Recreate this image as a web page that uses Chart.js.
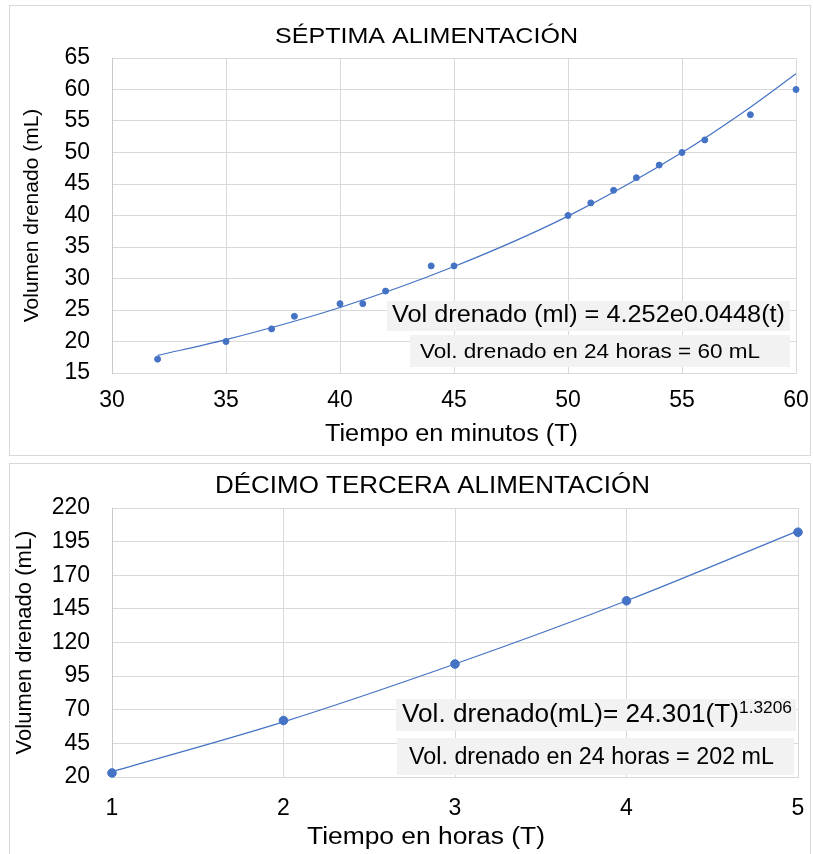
<!DOCTYPE html>
<html>
<head>
<meta charset="utf-8">
<script src="https://cdn.jsdelivr.net/npm/chart.js@4.4.1/dist/chart.umd.min.js"></script>
<style>
  html, body { margin: 0; padding: 0; background: #fff; }
  body { width: 813px; height: 854px; position: relative; overflow: hidden; }
  .box { position: absolute; border: 1px solid #d9d9d9; background: #fff; }
  #boxTop { left: 9px; top: 5px; width: 800px; height: 449px; }
  #boxBottom { left: 9px; top: 463px; width: 800px; height: 400px; }
  canvas { display: block; }
</style>
</head>
<body>
<div class="box" id="boxTop"><canvas id="chartMin" width="800" height="449"></canvas></div>
<div class="box" id="boxBottom"><canvas id="chartHoras" width="800" height="400"></canvas></div>
<script>
// Séptima alimentación: tiempo en minutos vs volumen drenado
const tiempoMin = [32, 35, 37, 38, 40, 41, 42, 44, 45, 50, 51, 52, 53, 54, 55, 56, 58, 60];
const volumenMin = [17.2, 20, 22, 24, 26, 26, 28, 32, 32, 40, 42, 44, 46, 48, 50, 52, 56, 60];
// línea de tendencia
const tendMinT = [32, 35, 40, 45, 50, 55, 58, 60];
const tendMinV = [17.8, 20.3, 25.4, 31.9, 39.9, 50.0, 57.2, 62.5];
const ticksMinX = [30, 35, 40, 45, 50, 55, 60];
const ticksMinY = [15, 20, 25, 30, 35, 40, 45, 50, 55, 60, 65];

// Décimo tercera alimentación: tiempo en horas vs volumen drenado
const tiempoHoras = [1, 2, 3, 4, 5];
const volumenHoras = [23, 62, 104, 151, 202];
const tendHorasT = [1, 2, 3, 4, 5];
const tendHorasV = [24, 61, 104, 151, 203];
const ticksHorasX = [1, 2, 3, 4, 5];
const ticksHorasY = [20, 45, 70, 95, 120, 145, 170, 195, 220];

const AZUL = '#4472c4';
const GRID = '#d9d9d9';
const FONT = "'Liberation Sans', Arial, sans-serif";

function pairs(xs, ys) {
    return xs.map((x, i) => ({ x: x, y: ys[i] }));
}

// draws text squeezed/stretched to a given width
function fitText(ctx, text, left, cy, width, size) {
    ctx.save();
    ctx.font = size + 'px ' + FONT;
    const w = ctx.measureText(text).width;
    ctx.translate(left, cy);
    ctx.scale(width / w, 1);
    ctx.textBaseline = 'middle';
    ctx.textAlign = 'left';
    ctx.fillStyle = '#000';
    ctx.fillText(text, 0, 0);
    ctx.restore();
}

function overlay(items) {
    return {
        id: 'overlay',
        afterDatasetsDraw(chart) {
            const ctx = chart.ctx;
            items.forEach(it => {
                if (it.box) {
                    ctx.save();
                    ctx.fillStyle = '#f2f2f2';
                    ctx.fillRect(it.box[0], it.box[1], it.box[2], it.box[3]);
                    ctx.restore();
                } else {
                    fitText(ctx, it.text, it.x, it.y, it.w, it.size);
                }
            });
        }
    };
}

function buildChart(id, cfg) {
    return new Chart(document.getElementById(id), {
        type: 'scatter',
        data: {
            datasets: [{
                label: 'Volumen',
                data: pairs(cfg.xs, cfg.ys),
                backgroundColor: AZUL,
                borderColor: AZUL,
                pointRadius: cfg.radius,
                pointHoverRadius: cfg.radius,
                clip: false
            }, {
                label: 'Tendencia',
                data: pairs(cfg.tx, cfg.ty),
                showLine: true,
                borderColor: AZUL,
                borderWidth: 1.2,
                pointRadius: 0,
                cubicInterpolationMode: 'monotone',
                clip: false
            }]
        },
        options: {
            responsive: false,
            animation: false,
            layout: { padding: cfg.padding },
            plugins: {
                legend: { display: false },
                title: { display: false },
                tooltip: { enabled: false }
            },
            scales: {
                x: {
                    min: cfg.ticksX[0],
                    max: cfg.ticksX[cfg.ticksX.length - 1],
                    afterBuildTicks: s => { s.ticks = cfg.ticksX.map(v => ({ value: v })); },
                    afterFit: s => {
                        s.height = cfg.xHeight;
                        s.paddingLeft = 0;
                        s.paddingRight = cfg.rightPad;
                    },
                    grid: { color: GRID, drawTicks: false },
                    border: { color: GRID },
                    ticks: { color: '#000', padding: cfg.xTickPad, font: { family: FONT, size: 23 } },
                    title: { display: false }
                },
                y: {
                    min: cfg.ticksY[0],
                    max: cfg.ticksY[cfg.ticksY.length - 1],
                    afterBuildTicks: s => { s.ticks = cfg.ticksY.map(v => ({ value: v })); },
                    afterFit: s => { s.width = 102; },
                    grid: { color: GRID, drawTicks: false },
                    border: { color: '#c8c8c8' },
                    ticks: { color: '#000', padding: 22, font: { family: FONT, size: 23 } },
                    title: {
                        display: true, text: 'Volumen drenado (mL)', color: '#000',
                        font: { family: FONT, size: cfg.yTitleSize },
                        padding: { top: cfg.yTitlePad, bottom: 0 }
                    }
                }
            }
        },
        plugins: [overlay(cfg.overlay)]
    });
}

buildChart('chartMin', {
    xs: tiempoMin, ys: volumenMin, tx: tendMinT, ty: tendMinV,
    ticksX: ticksMinX, ticksY: ticksMinY, radius: 3, rightPad: 14,
    padding: { top: 52, right: 0, left: 0, bottom: 0 },
    xHeight: 82, xTickPad: 14, yTitlePad: 10, yTitleSize: 21,
    overlay: [
        { text: 'SÉPTIMA ALIMENTACIÓN', x: 265, y: 31, w: 303, size: 22 },
        { text: 'Tiempo en minutos (T)', x: 315, y: 429, w: 253, size: 23 },
        { box: [377, 295, 403, 30] },
        { text: 'Vol drenado (ml) = 4.252e0.0448(t)', x: 382, y: 310, w: 393, size: 23 },
        { box: [400, 329, 380, 32] },
        { text: 'Vol. drenado en 24 horas = 60 mL', x: 410, y: 346, w: 340, size: 20 }
    ]
});

buildChart('chartHoras', {
    xs: tiempoHoras, ys: volumenHoras, tx: tendHorasT, ty: tendHorasV,
    ticksX: ticksHorasX, ticksY: ticksHorasY, radius: 4.3, rightPad: 12,
    padding: { top: 44, right: 0, left: 0, bottom: 0 },
    xHeight: 87, xTickPad: 18, yTitlePad: 2, yTitleSize: 22,
    overlay: [
        { text: 'DÉCIMO TERCERA ALIMENTACIÓN', x: 205, y: 23, w: 435, size: 23 },
        { text: 'Tiempo en horas (T)', x: 297, y: 374, w: 238, size: 23 },
        { box: [386, 235, 400, 32] },
        { text: 'Vol. drenado(mL)= 24.301(T)', x: 392, y: 251, w: 337, size: 26 },
        { text: '1.3206', x: 729, y: 245, w: 53, size: 16 },
        { box: [387, 274, 397, 37] },
        { text: 'Vol. drenado en 24 horas = 202 mL', x: 399, y: 294, w: 365, size: 23 }
    ]
});
</script>
</body>
</html>
